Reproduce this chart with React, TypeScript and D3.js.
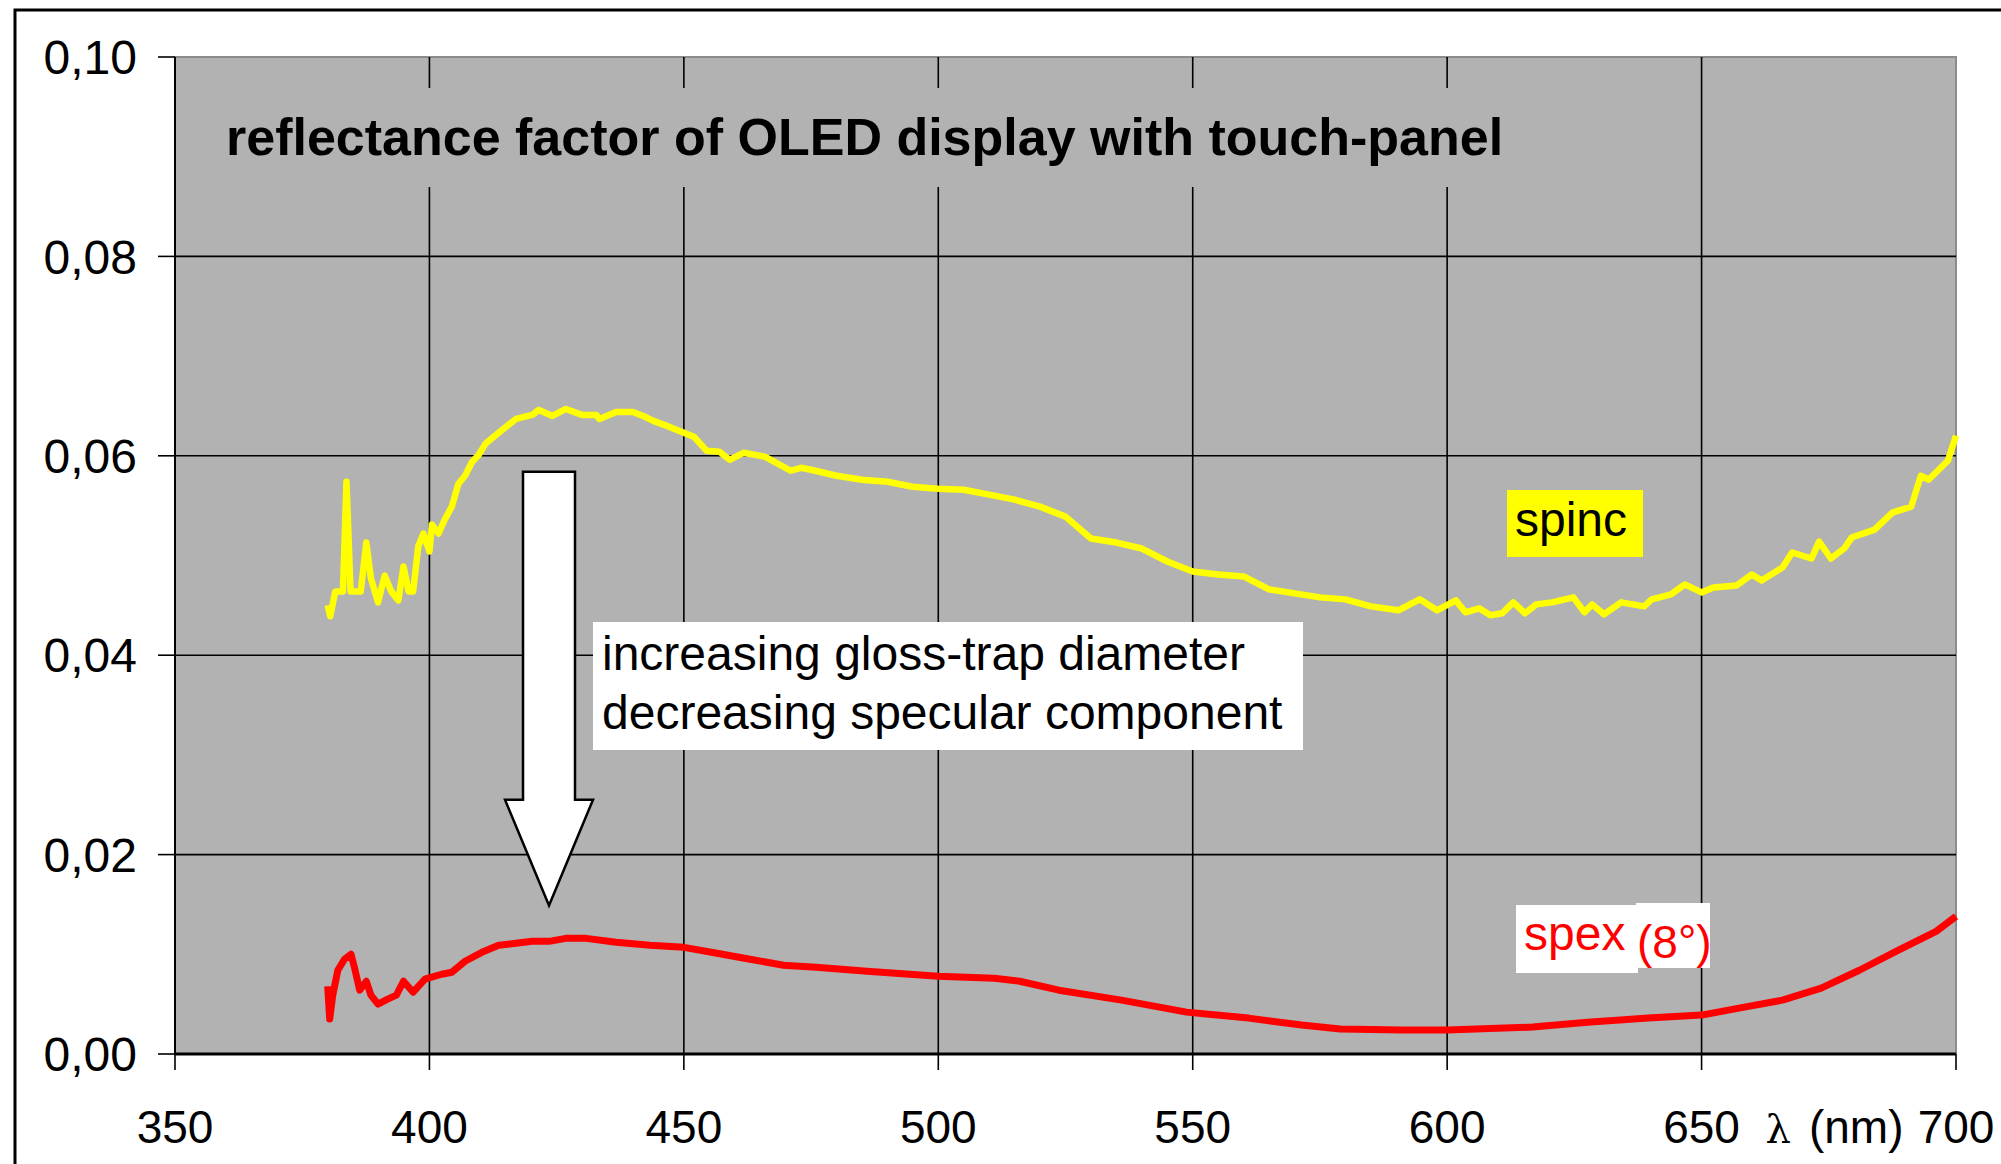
import React from 'react';
import * as d3 from 'd3';

const width = 2001;
const height = 1164;
const margin = { top: 57, right: 45, bottom: 110, left: 175 };

// wavelength (nm) and reflectance factor
const spincWl = [380, 380.5, 381.5, 383, 383.7, 384.5, 386.5, 387.6, 388.5, 389.9, 391.2, 392.5, 393.9, 394.9, 395.9, 396.8, 397.8, 398.8, 400, 400.5, 401.8, 403, 404.4, 405.7, 407, 408.4, 409.7, 411, 413.6, 417, 420.2, 421.5, 424.2, 426.8, 430, 432.8, 433.4, 436.7, 440, 442, 444, 446.7, 450, 452, 454.5, 457, 459, 461.7, 466, 471, 473, 475, 480, 485, 490, 495, 500, 505, 510, 515, 520, 525, 530, 535, 540, 545, 550, 555, 560, 565, 570, 575, 580, 585, 590.4, 594.6, 598, 601.7, 603.6, 606.3, 608.5, 610.8, 613, 615.3, 617.5, 620.6, 624.8, 627, 628.5, 630.8, 634.2, 638.7, 640.2, 644, 646.7, 650, 652.3, 656.9, 659.9, 661.8, 665.9, 667.8, 671.6, 673.1, 675.4, 678, 679.5, 684, 687.5, 691.2, 693.1, 694.6, 698.4, 700];
const spincVal = [0.0450, 0.0439, 0.0464, 0.0464, 0.0574, 0.0464, 0.0464, 0.0513, 0.0477, 0.0453, 0.0480, 0.0464, 0.0455, 0.0489, 0.0464, 0.0464, 0.0509, 0.0522, 0.0504, 0.0531, 0.0522, 0.0536, 0.0549, 0.0572, 0.0580, 0.0594, 0.0601, 0.0612, 0.0623, 0.0637, 0.0641, 0.0646, 0.0640, 0.0647, 0.0641, 0.0641, 0.0637, 0.0644, 0.0644, 0.0640, 0.0635, 0.0630, 0.0623, 0.0619, 0.0605, 0.0604, 0.0596, 0.0603, 0.0599, 0.0585, 0.0588, 0.0586, 0.0580, 0.0576, 0.0574, 0.0569, 0.0567, 0.0566, 0.0561, 0.0556, 0.0549, 0.0539, 0.0517, 0.0513, 0.0507, 0.0494, 0.0484, 0.0481, 0.0479, 0.0466, 0.0462, 0.0458, 0.0456, 0.0449, 0.0445, 0.0456, 0.0445, 0.0455, 0.0443, 0.0447, 0.0440, 0.0442, 0.0453, 0.0442, 0.0451, 0.0453, 0.0458, 0.0443, 0.0451, 0.0441, 0.0453, 0.0449, 0.0456, 0.0461, 0.0471, 0.0463, 0.0468, 0.0470, 0.0481, 0.0475, 0.0488, 0.0503, 0.0497, 0.0514, 0.0497, 0.0507, 0.0518, 0.0526, 0.0543, 0.0549, 0.0580, 0.0576, 0.0595, 0.0620];

const spexWl = [380, 380.4, 381, 382, 383.3, 384.6, 385.3, 386.3, 387.6, 388.5, 389.9, 391.8, 393.5, 394.9, 396.8, 399.1, 402.4, 404.4, 407, 410.3, 413.6, 417, 420.2, 423.5, 426.8, 430.8, 436.7, 443.3, 450, 456.5, 463, 469.6, 476, 486, 500, 511, 516, 523.7, 536, 548.8, 561, 571.4, 579, 591, 600, 616.8, 628.2, 639.5, 650, 658.4, 665.9, 673.5, 681, 688.6, 696.1, 700];
const spexVal = [0.0068, 0.0035, 0.0059, 0.0084, 0.0095, 0.0100, 0.0086, 0.0064, 0.0073, 0.0059, 0.0050, 0.0055, 0.0059, 0.0073, 0.0062, 0.0075, 0.0080, 0.0082, 0.0093, 0.0102, 0.0109, 0.0111, 0.0113, 0.0113, 0.0116, 0.0116, 0.0112, 0.0109, 0.0107, 0.0101, 0.0095, 0.0089, 0.0087, 0.0083, 0.0078, 0.0076, 0.0073, 0.0064, 0.0054, 0.0042, 0.0036, 0.0029, 0.0025, 0.0024, 0.0024, 0.0027, 0.0032, 0.0036, 0.0039, 0.0047, 0.0054, 0.0066, 0.0084, 0.0104, 0.0123, 0.0138];

const xTicks = [350, 400, 450, 500, 550, 600, 650, 700];
const yTicks = [0, 0.02, 0.04, 0.06, 0.08, 0.1];

const title = 'reflectance factor of OLED display with touch-panel';
const noteLines = ['increasing gloss-trap diameter', 'decreasing specular component'];

const font = 'Arial, "Liberation Sans", sans-serif';

export default function App() {
  const x = d3.scaleLinear().domain([350, 700]).range([margin.left, width - margin.right]);
  const y = d3.scaleLinear().domain([0, 0.1]).range([height - margin.bottom, margin.top]);

  const line = d3.line<[number, number]>()
    .x(d => x(d[0]))
    .y(d => y(d[1]));

  const spinc = spincWl.map((w, i) => [w, spincVal[i]] as [number, number]);
  const spex = spexWl.map((w, i) => [w, spexVal[i]] as [number, number]);

  const fmt = (v: number) => d3.format('.2f')(v).replace('.', ',');

  const x0 = x(350), x1 = x(700), yb = y(0), yt = y(0.1);

  // big down arrow (annotation) in data units
  const ax = x(423.5);
  const aTop = y(0.0584), aHead = y(0.0255), aTip = y(0.0149);
  const arrowPts = [
    [ax - 26, aTop], [ax + 26, aTop], [ax + 26, aHead], [ax + 44, aHead],
    [ax, aTip], [ax - 44, aHead], [ax - 26, aHead]
  ].map(p => p.join(',')).join(' ');

  return (
    <svg width={width} height={height} style={{ position: 'absolute', left: 0, top: 0, background: '#fff' }}>
      {/* outer frame */}
      <path d={`M15,${height + 5} L15,10 L${width + 5},10`} fill="none" stroke="#000" strokeWidth={3} />

      {/* plot area */}
      <rect x={x0} y={yt} width={x1 - x0} height={yb - yt} fill="#b2b2b2" stroke="#8c8c8c" strokeWidth={2} />

      {/* grid */}
      {yTicks.slice(1, -1).map(t => (
        <line key={'gy' + t} x1={x0} x2={x1} y1={y(t)} y2={y(t)} stroke="#000" strokeWidth={1.6} />
      ))}
      {xTicks.slice(1, -1).map(t => (
        <line key={'gx' + t} x1={x(t)} x2={x(t)} y1={yt} y2={yb} stroke="#000" strokeWidth={1.6} />
      ))}

      {/* title with its own gray box covering the grid */}
      <rect x={x0 + 30} y={88} width={1330} height={99} fill="#b2b2b2" />
      <text x={226} y={155} fontFamily={font} fontWeight="bold" fontSize={52} fill="#000">{title}</text>

      {/* axes */}
      <line x1={x0} x2={x0} y1={yt} y2={yb} stroke="#000" strokeWidth={2} />
      <line x1={x0} x2={x1} y1={yb} y2={yb} stroke="#000" strokeWidth={3} />
      {yTicks.map(t => (
        <g key={'ty' + t}>
          <line x1={x0 - 17} x2={x0} y1={y(t)} y2={y(t)} stroke="#000" strokeWidth={1.6} />
          <text x={x0 - 38} y={y(t)} dy="0.36em" textAnchor="end" fontFamily={font} fontSize={48} fill="#000">{fmt(t)}</text>
        </g>
      ))}
      {xTicks.map(t => (
        <g key={'tx' + t}>
          <line x1={x(t)} x2={x(t)} y1={yb} y2={yb + 16} stroke="#000" strokeWidth={1.6} />
          <text x={x(t)} y={1143} textAnchor="middle" fontFamily={font} fontSize={46} fill="#000">{t}</text>
        </g>
      ))}
      <text x={x(650) + 64} y={1143} fontFamily={font} fontSize={46} fill="#000">
        <tspan fontFamily='"DejaVu Serif", serif' fontSize={40}>λ</tspan>
        <tspan dx={18}>(nm)</tspan>
      </text>

      {/* series */}
      <path d={line(spinc) || ''} fill="none" stroke="#ffff00" strokeWidth={6.5} strokeLinejoin="round" />
      <path d={line(spex) || ''} fill="none" stroke="#ff0000" strokeWidth={7} strokeLinejoin="round" />

      {/* arrow + note */}
      <polygon points={arrowPts} fill="#fff" stroke="#000" strokeWidth={2.5} strokeLinejoin="miter" />
      <rect x={593} y={622} width={710} height={128} fill="#fff" />
      {noteLines.map((s, i) => (
        <text key={s} x={602} y={670 + i * 59} fontFamily={font} fontSize={48} fill="#000">{s}</text>
      ))}

      {/* series labels */}
      <rect x={1507} y={490} width={136} height={67} fill="#ffff00" />
      <text x={1515} y={536} fontFamily={font} fontSize={48} fill="#000">spinc</text>

      <rect x={1516} y={905} width={122} height={68} fill="#fff" />
      <rect x={1636} y={903} width={74} height={65} fill="#fff" />
      <text x={1524} y={950} fontFamily={font} fontSize={48} fill="#ff0000">spex</text>
      <text x={1637} y={958} fontFamily={font} fontSize={46} fill="#ff0000">(8°)</text>
    </svg>
  );
}
